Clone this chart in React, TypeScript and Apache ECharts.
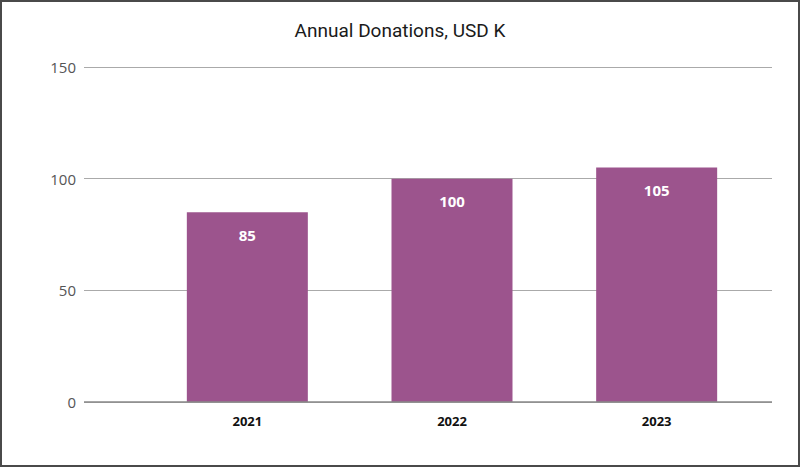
import React, { useEffect, useRef } from "react";
import * as echarts from "echarts";

const categories = ["2021", "2022", "2023"];
const donations = [85, 100, 105];
const yMin = 0;
const yMax = 150;
const yInterval = 50;

export default function App() {
  const ref = useRef<HTMLDivElement>(null);
  useEffect(() => {
    if (!ref.current) return;
    const chart = echarts.init(ref.current, null, { renderer: "svg" });
    chart.setOption({
      animation: false,
      backgroundColor: "#ffffff",
      title: {
        text: "Annual Donations, USD K",
        left: "center",
        top: 14,
        textStyle: { fontFamily: "Roboto", fontSize: 19, fontWeight: "normal", color: "#1a1a1a" },
      },
      grid: [
        { left: 82, right: 26, top: 65, bottom: 63 },
        { left: 143, right: 39, top: 65, bottom: 63 },
      ],
      xAxis: [
        { type: "category", gridIndex: 0, data: categories, show: false },
        {
          type: "category",
          gridIndex: 1,
          data: categories,
          axisLine: { show: false },
          axisTick: { show: false },
          axisLabel: {
            fontFamily: "Open Sans",
            fontSize: 13,
            fontWeight: "bold",
            color: "#111",
            margin: 12,
          },
        },
      ],
      yAxis: [
        {
          type: "value",
          gridIndex: 0,
          min: yMin,
          max: yMax,
          interval: yInterval,
          axisLine: { show: false },
          axisTick: { show: false },
          axisLabel: { fontFamily: "Open Sans", fontSize: 15, color: "#555", margin: 8 },
          splitLine: { lineStyle: { color: "#aaaaaa", width: 1 } },
        },
        { type: "value", gridIndex: 1, min: yMin, max: yMax, interval: yInterval, show: false },
      ],
      series: [
        {
          type: "line",
          xAxisIndex: 0,
          yAxisIndex: 0,
          data: [],
          silent: true,
          markLine: {
            silent: true,
            symbol: "none",
            label: { show: false },
            lineStyle: { color: "#888888", type: "solid", width: 1.5 },
            data: [{ yAxis: 0 }],
          },
        },
        {
          type: "bar",
          xAxisIndex: 1,
          yAxisIndex: 1,
          data: donations,
          barWidth: 121,
          itemStyle: { color: "#9c548d" },
          label: {
            show: true,
            position: "insideTop",
            distance: 15,
            fontFamily: "Open Sans",
            fontSize: 15,
            fontWeight: "bold",
            color: "#ffffff",
          },
        },
      ],
    });
    return () => chart.dispose();
  }, []);
  return (
    <div
      style={{
        position: "absolute",
        left: 0,
        top: 0,
        width: 800,
        height: 467,
        boxSizing: "border-box",
        border: "2px solid #4a4a4a",
        background: "#fff",
      }}
    >
      <div ref={ref} style={{ width: 796, height: 463 }} />
    </div>
  );
}
